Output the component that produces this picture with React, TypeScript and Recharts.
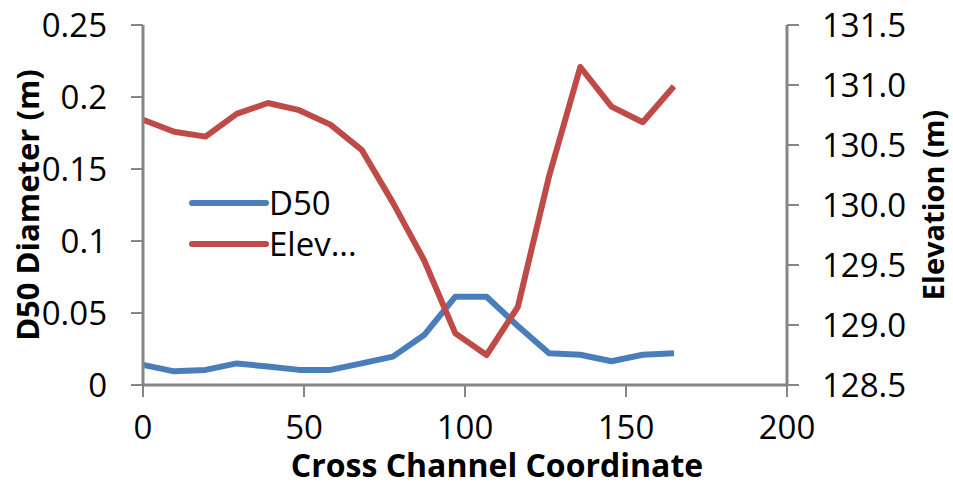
import { Legend, Line, LineChart, XAxis, YAxis } from "recharts";

// cross channel coordinate (m)
const coords = [0, 9.7, 19.4, 29.1, 38.8, 48.5, 58.2, 67.9, 77.6, 87.3, 97, 106.7, 116.4, 126.1, 135.8, 145.5, 155.2, 164.9];
// D50 diameter (m)
const d50 = [0.014, 0.0095, 0.0105, 0.015, 0.0128, 0.0105, 0.0105, 0.015, 0.0197, 0.0347, 0.0613, 0.0613, 0.041, 0.022, 0.021, 0.0165, 0.021, 0.022];
// bed elevation (m)
const elevation = [130.71, 130.61, 130.57, 130.76, 130.85, 130.79, 130.67, 130.46, 130.02, 129.54, 128.93, 128.75, 129.15, 130.24, 131.15, 130.82, 130.69, 130.99];

const xTicks = [0, 50, 100, 150, 200];
const leftTicks = [0, 0.05, 0.1, 0.15, 0.2, 0.25];
const rightTicks = [128.5, 129, 129.5, 130, 130.5, 131, 131.5];

const data = coords.map((x, i) => ({ x, d50: d50[i], elev: elevation[i] }));

const BLUE = "#4a7ebb";
const RED = "#be4b48";
const AXIS = "#868686";
const FONT = "'Open Sans', sans-serif";

const tickStyle = { fill: "#000", fontSize: 33, fontFamily: FONT };

const legendItems = [
	{ name: "D50", color: BLUE },
	{ name: "Elev...", color: RED },
];

const ChartLegend = () => (
	<div style={{ fontFamily: FONT, fontSize: 33, color: "#000" }}>
		{legendItems.map((item) => (
			<div key={item.name} style={{ display: "flex", alignItems: "center", height: 41 }}>
				<svg width={80} height={10}>
					<line x1={3} y1={5} x2={77} y2={5} stroke={item.color} strokeWidth={6} strokeLinecap="round" />
				</svg>
				<span style={{ lineHeight: 1 }}>{item.name}</span>
			</div>
		))}
	</div>
);

const vTitle = (text: string, cx: number, size: number) => (p: any) => {
	const vb = p.viewBox;
	const cy = vb.y + vb.height / 2;
	return (
		<text
			transform={`translate(${cx}, ${cy}) rotate(-90)`}
			textAnchor="middle"
			dominantBaseline="central"
			fontFamily={FONT}
			fontSize={size}
			fontWeight={700}
			fill="#000"
		>
			{text}
		</text>
	);
};

const xTitle = () => (
	<text x={497} y={477} textAnchor="middle" fontFamily={FONT} fontSize={32} fontWeight={700} fill="#000">
		Cross Channel Coordinate
	</text>
);

export default function App() {
	return (
		<div style={{ width: 953, height: 487, background: "#fff", position: "absolute", left: 0, top: 0 }}>
			<LineChart width={953} height={487} data={data} margin={{ top: 25, right: 0, bottom: 0, left: 0 }}>
				<XAxis
					dataKey="x"
					type="number"
					domain={[0, 200]}
					ticks={xTicks}
					height={102}
					tick={tickStyle}
					tickSize={12}
					tickMargin={19}
					axisLine={{ stroke: AXIS, strokeWidth: 3 }}
					tickLine={{ stroke: AXIS, strokeWidth: 2 }}
					label={{ content: xTitle }}
				/>
				<YAxis
					yAxisId="left"
					domain={[0, 0.25]}
					ticks={leftTicks}
					width={143}
					tick={tickStyle}
					tickSize={12}
					tickMargin={24}
					axisLine={{ stroke: AXIS, strokeWidth: 3 }}
					tickLine={{ stroke: AXIS, strokeWidth: 2 }}
					label={{ content: vTitle("D50 Diameter (m)", 27, 31) }}
				/>
				<YAxis
					yAxisId="right"
					orientation="right"
					domain={[128.5, 131.5]}
					ticks={rightTicks}
					tickFormatter={(v: number) => v.toFixed(1)}
					width={166}
					tick={{ ...tickStyle, textAnchor: "start" }}
					tickSize={12}
					tickMargin={23}
					axisLine={{ stroke: AXIS, strokeWidth: 3 }}
					tickLine={{ stroke: AXIS, strokeWidth: 2 }}
					label={{ content: vTitle("Elevation (m)", 932, 29) }}
				/>
				<Line
					yAxisId="left"
					type="linear"
					dataKey="d50"
					stroke={BLUE}
					strokeWidth={6}
					strokeLinejoin="round"
					dot={false}
					isAnimationActive={false}
				/>
				<Line
					yAxisId="right"
					type="linear"
					dataKey="elev"
					stroke={RED}
					strokeWidth={6}
					strokeLinejoin="round"
					dot={false}
					isAnimationActive={false}
				/>
				<Legend
					layout="vertical"
					align="center"
					verticalAlign="middle"
					content={<ChartLegend />}
					wrapperStyle={{ position: "absolute", left: 189, top: 182, width: "auto", height: "auto" }}
				/>
			</LineChart>
		</div>
	);
}
